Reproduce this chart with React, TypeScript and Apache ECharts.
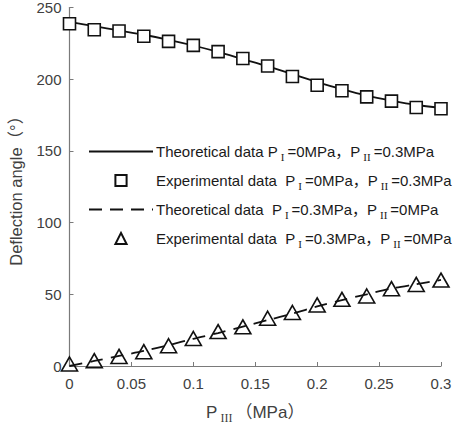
import { useEffect, useRef } from 'react'
import * as echarts from 'echarts'

const pressure = [0, 0.02, 0.04, 0.06, 0.08, 0.1, 0.12, 0.14, 0.16, 0.18, 0.2, 0.22, 0.24, 0.26, 0.28, 0.3]

// P_I = 0 MPa, P_II = 0.3 MPa
const theory1 = [240, 237, 234, 231, 227.5, 223.5, 219, 214, 209, 203.5, 198, 193, 188.5, 185, 182, 180]
const exp1 = [238.7, 234.5, 233.6, 229.9, 226.4, 223.6, 219.2, 214.4, 209.2, 201.9, 195.8, 191.9, 187.7, 184.7, 180.3, 179.4]

// P_I = 0.3 MPa, P_II = 0 MPa
const theory2 = [0, 3.5, 7, 10.5, 14.5, 19, 23, 27.5, 32, 36.5, 41.5, 46, 50, 54, 57, 60]
const exp2 = [1.4, 3.7, 6.7, 10, 14.1, 19.2, 24, 27.3, 33.3, 37.3, 42.6, 46.5, 48.8, 53.9, 56.9, 59.9]

const legendTexts: Record<string, string> = {
  theory1: '{t|Theoretical data P}{s|I}{t|=0MPa，P}{s|II}{t|=0.3MPa}',
  exp1: '{t|Experimental data  P}{s|I}{t|=0MPa，P}{s|II}{t|=0.3MPa}',
  theory2: '{t|Theoretical data  P}{s|I}{t|=0.3MPa，P}{s|II}{t|=0MPa}',
  exp2: '{t|Experimental data  P}{s|I}{t|=0.3MPa，P}{s|II}{t|=0MPa}',
}

const FONT = '"Liberation Sans", Arial, "Noto Sans CJK SC", sans-serif'
const SERIF = '"Liberation Serif", "Times New Roman", serif'
const AXIS_COLOR = '#7a7a7a'
const LABEL_COLOR = '#404040'

const pairs = (ys: number[]) => pressure.map((x, i) => [x, ys[i]])

export default function App() {
  const chartRef = useRef<HTMLDivElement>(null)

  useEffect(() => {
    if (!chartRef.current) return
    const chart = echarts.init(chartRef.current, undefined, { renderer: 'svg' })

    const markerStyle = { color: '#fff', borderColor: '#111', borderWidth: 1.6 }

    chart.setOption({
      animation: false,
      textStyle: { fontFamily: FONT },
      grid: { left: 61, right: 33, top: 7, bottom: 62 },
      legend: {
        orient: 'vertical',
        left: 83,
        top: 139,
        itemWidth: 64,
        itemHeight: 14,
        itemGap: 11,
        data: [
          { name: 'theory1', itemStyle: { opacity: 0 } },
          { name: 'exp1' },
          { name: 'theory2', itemStyle: { opacity: 0 } },
          { name: 'exp2' },
        ],
        formatter: (name: string) => legendTexts[name],
        textStyle: {
          color: '#1a1a1a',
          padding: [0, 0, 0, -2],
          rich: {
            t: { fontSize: 15, fontFamily: FONT, color: '#1a1a1a' },
            s: { fontSize: 11, fontFamily: SERIF, color: '#1a1a1a', padding: [10, 3, 0, 3] },
          },
        },
      },
      xAxis: {
        type: 'value',
        min: 0,
        max: 0.3,
        interval: 0.05,
        name: '{t|P}{s|III}{t|（MPa）}',
        nameLocation: 'middle',
        nameGap: 35,
        nameTextStyle: {
          rich: {
            t: { fontSize: 17, fontFamily: FONT, color: LABEL_COLOR },
            s: { fontSize: 12, fontFamily: SERIF, color: LABEL_COLOR, padding: [11, 3, 0, 3] },
          },
        },
        axisLine: { lineStyle: { color: AXIS_COLOR, width: 1.2 } },
        axisTick: { inside: true, length: 4, lineStyle: { color: AXIS_COLOR } },
        axisLabel: { fontSize: 15, color: LABEL_COLOR, margin: 10 },
        splitLine: { show: false },
      },
      yAxis: {
        type: 'value',
        min: 0,
        max: 250,
        interval: 50,
        name: 'Deflection angle（°）',
        nameLocation: 'middle',
        nameGap: 45,
        nameTextStyle: { fontSize: 16.5, color: LABEL_COLOR, fontFamily: FONT },
        axisLine: { show: true, lineStyle: { color: AXIS_COLOR, width: 1.2 } },
        axisTick: { show: true, inside: true, length: 4, lineStyle: { color: AXIS_COLOR } },
        axisLabel: { fontSize: 15, color: LABEL_COLOR, margin: 8 },
        splitLine: { show: false },
      },
      series: [
        {
          name: 'theory1',
          type: 'line',
          data: pairs(theory1),
          smooth: 0.3,
          showSymbol: false,
          symbol: 'none',
          lineStyle: { color: '#111', width: 1.8 },
          itemStyle: { color: '#111' },
          z: 2,
        },
        {
          name: 'exp1',
          type: 'line',
          data: pairs(exp1),
          symbol: 'rect',
          symbolSize: 12,
          lineStyle: { width: 0, opacity: 0 },
          itemStyle: markerStyle,
          z: 3,
        },
        {
          name: 'theory2',
          type: 'line',
          data: pairs(theory2),
          smooth: 0.3,
          showSymbol: false,
          symbol: 'none',
          lineStyle: { color: '#111', width: 1.8, type: [13, 8] },
          itemStyle: { color: '#111' },
          z: 2,
        },
        {
          name: 'exp2',
          type: 'line',
          data: pairs(exp2),
          symbol: 'triangle',
          symbolSize: [16, 14],
          lineStyle: { width: 0, opacity: 0 },
          itemStyle: { ...markerStyle, color: 'rgba(255,255,255,0)' },
          z: 3,
        },
      ],
    })

    return () => chart.dispose()
  }, [])

  return (
    <div
      ref={chartRef}
      style={{ position: 'fixed', left: 0, top: 0, width: 474, height: 429, background: '#fff' }}
    />
  )
}
